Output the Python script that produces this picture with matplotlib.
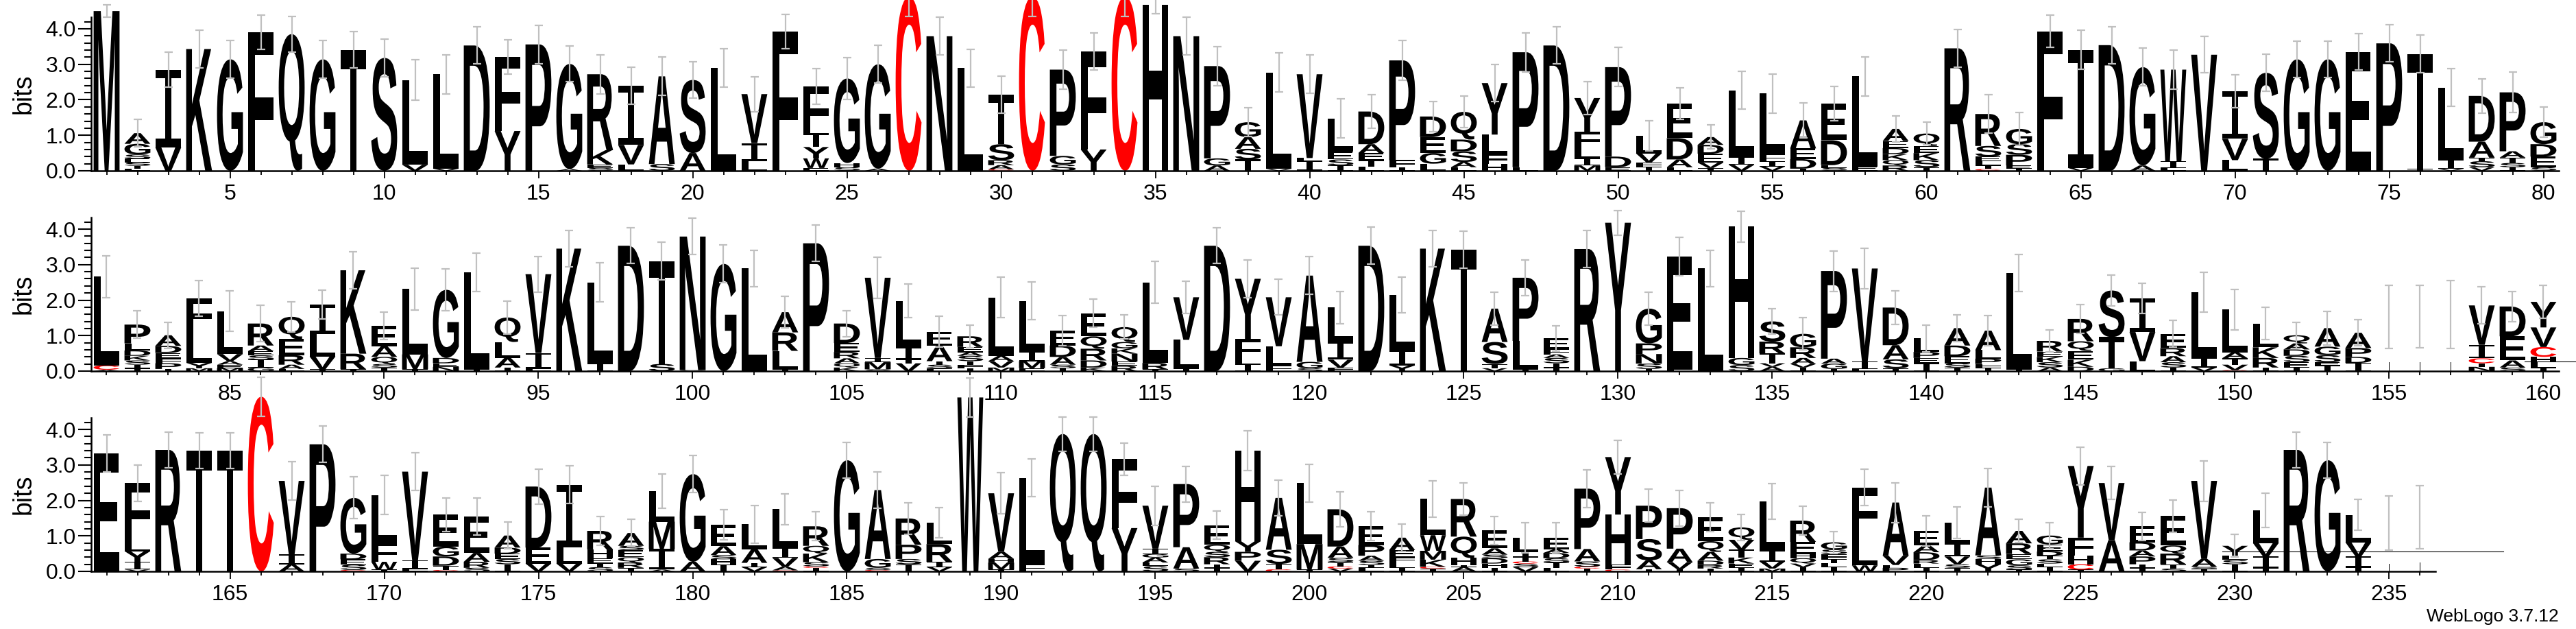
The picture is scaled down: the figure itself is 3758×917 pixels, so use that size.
import re
import matplotlib
matplotlib.use('Agg')
import matplotlib.pyplot as plt
from matplotlib.textpath import TextPath
from matplotlib.font_manager import FontProperties, fontManager
from matplotlib.patches import PathPatch
from matplotlib.transforms import Affine2D
import matplotlib.ticker as mticker

# ---------------- data: letter stacks (bottom -> top, height in bits) ----------------
row1_start = 1
row1_stacks = [
    "M4.5", "L.06 T.08 S.1 E.1 S.12 G.3 A.3", "V.66 I2.19", "K3.43", "G3.14",
    "F3.9", "Q3.85", "G3.14", "T3.41", "S3.18",
    "V.17 L2.39", "V.06 L2.66", "D3.53", "Y1.12 F2.09", "P3.56",
    "A.05 G2.96", "S.08 E.1 K.4 R2.14", "L.18 V.55 I1.67", "S.19 A2.47", "A.5 S2.06",
    "L2.89", "L.28 I.5 V1.38", "F3.92", "E.08 W.27 Y.32 T.4 F1.3", "S.1 H.12 G2.38",
    "A.06 G2.94", "C4.9", "N3.79", "L2.89", "C.04 A.12 R.14 S.45 T1.39",
    "C4.9", "S.18 G.24 P2.43", "Y.6 F2.77", "C4.9", "H4.68",
    "N3.79", "A.15 G.2 P2.6", "T.32 S.3 A.33 G.42", "V.05 L2.72", "I.28 L.08 V2.36",
    "I.15 S.17 E.22 L.93", "L.12 T.18 E.2 A.25 D.92", "I.1 F.2 P2.81", "L.2 G.3 E.45 D.58", "L.1 A.15 S.3 D.33 Q.78",
    "H.2 F.27 L.55 Y1.45", "L.1 P3.24", "D3.53", "M.15 I.2 L.3 F.45 Y.95", "E.1 D.3 P2.52",
    "T.12 F.12 V.25 L.5", "L.1 A.22 D.6 E.97", "T.08 V.15 E.25 D.25 A.22", "V.17 I.22 L1.88", "V.12 I.15 F.2 L1.71",
    "I.06 D.27 E.3 A.79", "S.08 L.08 D.7 E1.03", "E.12 L2.54", "R.15 Q.15 K.17 D.17 E.2 A.34", "T.1 S.2 K.2 E.2 Q.35",
    "R3.45", "C.05 T.1 L.12 E.13 S.3 R.9", "T.07 E.08 P.3 S.3 G.43", "F3.93", "V.08 I3.33",
    "D3.54", "A.15 G2.77", "L.07 I.2 W2.58", "V3.27", "L.3 V.6 I1.34",
    "T.34 S2.42", "G3.14", "G3.14", "E3.35", "P3.59",
    "I.05 T3.24", "V.05 I.27 L2.02", "V.1 S.17 T.1 A.45 D1.29", "I.1 S.12 T.15 A.18 P1.66", "S.1 E.3 D.35 G.62",
]
row1_err = [
    0.18, 0.38, 0.5, 0.53, 0.53, 0.48, 0.5, 0.53, 0.52, 0.53,
    0.57, 0.55, 0.52, 0.48, 0.54, 0.5, 0.55, 0.52, 0.54, 0.52,
    0.54, 0.49, 0.48, 0.5, 0.59, 0.53, 0.55, 0.53, 0.53, 0.52,
    0.55, 0.56, 0.52, 0.55, 0.26, 0.53, 0.55, 0.4, 0.55, 0.54,
    0.55, 0.47, 0.56, 0.43, 0.44, 0.52, 0.55, 0.52, 0.47, 0.55,
    0.42, 0.45, 0.34, 0.54, 0.55, 0.5, 0.48, 0.55, 0.37, 0.32,
    0.53, 0.54, 0.47, 0.45, 0.55, 0.52, 0.53, 0.55, 0.51, 0.47,
    0.52, 0.52, 0.52, 0.51, 0.52, 0.53, 0.53, 0.48, 0.57, 0.43,
]

row2_start = 81
row2_stacks = [
    "A.04 C.12 L2.5", "T.08 I.1 S.12 K.13 D.15 L.2 P.53", "I.06 P.16 F.14 E.15 D.2 A.3", "M.08 Y.15 L.9 F.92", "M.08 E.1 A.1 V.2 L1.21",
    "G.1 I.1 T.12 S.12 E.12 A.16 R.62", "L.06 A.12 R.27 E.45 Q.63", "T.05 V.36 L.64 I.82", "I.05 R.44 K2.35", "T.1 S.1 Q.2 A.3 E.57",
    "I.05 M.42 L1.84", "N.12 E.1 D.15 G1.92", "I.05 L2.74", "I.1 A.27 L.45 Q.69", "L.06 I.45 V2.22",
    "K3.45", "I.22 L2.28", "D3.53", "S.2 T2.9", "G.03 N3.76",
    "G3.02", "L2.89", "I.05 L.52 R.52 A.57", "P3.6", "K.1 Q.12 A.14 R.18 E.25 D.55",
    "S.05 M.2 I.12 V2.26", "V.22 T.1 I.35 L1.31", "F.08 S.1 T.1 A.43 E.4", "I.08 F.1 T.1 S.15 A.1 E.15 R.3", "M.1 V.18 A.15 L1.64",
    "E.08 M.2 I.27 L1.43", "I.08 S.1 A.22 D.32 E.42", "K.1 D.2 R.33 Q.35 E.65", "R.15 E.12 N.22 K.15 G.18 Q.42", "I.05 R.18 L2.27",
    "I.06 L.82 V1.2", "D3.53", "I.2 L.12 F.58 Y1.7", "F.15 L.55 V1.38", "S.08 G.18 A2.43",
    "F.1 V.22 I.52 L.95", "D3.53", "Y.16 I.42 L1.57", "K3.45", "T3.42",
    "V.08 T.12 S.62 A.94", "I.05 L.8 P1.78", "T.1 I.12 S.15 A.1 F.15 E.3", "R3.44", "Y4.18",
    "I.06 S.15 N.27 P.3 G.98", "L.04 E3.19", "L2.89", "S.17 G.2 H3.7", "A.12 V.1 T.28 R.33 S.57",
    "I.1 V.1 A.17 R.3 G.38", "I.06 G.15 A.14 P2.47", "L.05 I.22 V2.62", "T.08 S.25 A.4 D1.06", "I.1 T.12 E.15 P.17 L.38",
    "T.1 S.12 E.2 D.3 A.49", "T.1 F.1 P.15 L.24 A.55", "I.05 L2.71", "A.1 S.15 K.15 E.15 R.3", "D.12 K.2 E.25 Q.27 R.63",
    "G.08 T.88 S1.31", "L.28 V.82 I.95", "I.1 S.15 A.17 R.23 E.4", "V.1 I.27 L1.85", "C.03 V.15 T.18 A.17 L1.2",
    "I.1 R.27 K.3 L.67", "I.1 E.15 S.18 D.18 A.17 Q.23", "T.15 E.1 S.2 G.24 A.52", "I.1 T.13 D.17 P.25 A.43", "L1.52",
    "L1.54", "L1.6", "N.12 T.1 C.14 I.38 V1.11", "S.1 A.2 E.68 D.84", "T.1 L.15 H.15 C.28 V.55 Y.72",
]
row2_err = [
    0.59, 0.39, 0.37, 0.5, 0.57, 0.51, 0.43, 0.41, 0.53, 0.39,
    0.59, 0.58, 0.54, 0.47, 0.5, 0.52, 0.55, 0.5, 0.53, 0.51,
    0.53, 0.51, 0.45, 0.51, 0.37, 0.58, 0.48, 0.44, 0.32, 0.57,
    0.53, 0.43, 0.39, 0.34, 0.59, 0.46, 0.5, 0.53, 0.5, 0.53,
    0.45, 0.52, 0.5, 0.52, 0.52, 0.47, 0.51, 0.36, 0.52, 0.35,
    0.47, 0.54, 0.51, 0.44, 0.35, 0.45, 0.57, 0.57, 0.47, 0.37,
    0.37, 0.42, 0.52, 0.31, 0.4, 0.44, 0.42, 0.38, 0.56, 0.57,
    0.45, 0.37, 0.48, 0.37, 0.89, 0.88, 0.96, 0.52, 0.42, 0.46,
]

row3_start = 161
row3_stacks = [
    "E3.32", "V.05 I.22 Y.3 L.3 F1.62", "R3.42", "T3.4", "T3.4",
    "C4.92", "A.2 I.28 V2.07", "P3.58", "C.04 S.15 E.15 D.16 G1.57", "I.05 W.22 F.53 L1.35",
    "L.06 I.25 V2.5", "C.04 T.12 D.26 G.28 E.9", "S.1 R.17 A.25 E1.02", "I.1 T.1 S.15 E.15 D.17 A.34", "V.22 E.45 D1.72",
    "V.22 L.45 I1.77", "S.12 T.1 E.15 H.25 R.52", "T.1 R.15 Q.15 E.2 S.12 A.36", "A.05 I.58 M.77 L.86", "A.27 G2.47",
    "I.08 T.12 H.14 S.12 A.25 E.6", "V.12 I.12 A.38 L.71", "C.03 A.1 V.25 I.3 L1.07", "I.1 C.04 S.12 K.24 Q.22 R.55", "G3.13",
    "C.04 S.06 G.25 A1.94", "I.08 T.12 S.15 P.4 R.74", "V.12 I.15 R.5 L.6", "W4.9", "I.05 M.2 H.1 A.2 V1.65",
    "F.2 L2.43", "Q3.87", "Q3.87", "Y1.22 F1.94", "S.15 L.1 A.14 G.1 I.15 V1.21",
    "S.08 A.6 P1.78", "T.1 I.1 R.2 S.15 Q.2 E.55", "V.3 P.25 Y.3 H2.55", "C.06 T.15 S.4 A1.46", "I.05 M.72 L1.72",
    "V.08 C.06 T.12 S.12 A.32 D1.05", "L.1 I.08 S.12 A.14 P.3 E.53", "I.1 L.15 F.15 E.2 A.35", "T.08 C.05 K.2 M.25 W.44 L1.02", "A.12 I.06 H.2 Q.6 R1.06",
    "I.1 H.12 D.15 S.1 A.18 E.5", "V.12 S.1 C.06 T.12 I.15 L.4", "L.1 T.15 S.12 D.15 A.1 E.33", "I.08 C.05 S.15 A.35 P1.7", "C.05 F.15 H1.4 Y1.62",
    "I.06 A.25 S.6 P.94", "I.06 V.2 A.38 P1.14", "I.08 R.1 D.12 A.25 Q.3 E.68", "I.1 E.12 K.17 T.22 V.28 Q.35", "M.08 V.2 I.32 L1.37",
    "I.12 V.1 Q.15 H.12 E.34 R.6", "I.12 L.12 T.1 F.15 S.13 G.2", "W.17 L.8 F1.39", "P.1 F.08 V.26 A1.5", "I.1 L.12 R.1 D.22 A.2 E.4",
    "T.1 S.1 V.22 I.37 L.58", "Y.2 H.15 S.1 A1.91", "T.05 S.12 G.17 E.15 R.3 A.35", "I.12 L.1 S.12 T.1 D.12 E.2 G.25", "I.05 C.15 H.25 F.5 Y2.02",
    "A.88 V1.61", "T.1 I.1 P.22 A.17 D.23 E.45", "S.08 T.12 R.3 Q.23 E.83", "T.08 S.05 A.22 V2.2", "I.1 T.1 S.12 L.12 Y.28",
    "T.1 I.32 V.38 L.92", "R3.42", "G3.13", "T.12 I.3 V.4 L.77", "L1.36",
    "L1.52",
]
row3_err = [
    0.52, 0.51, 0.5, 0.51, 0.51, 0.55, 0.54, 0.51, 0.59, 0.55,
    0.53, 0.47, 0.52, 0.38, 0.49, 0.53, 0.41, 0.38, 0.48, 0.52,
    0.42, 0.53, 0.43, 0.41, 0.51, 0.52, 0.44, 0.42, 0.55, 0.58,
    0.53, 0.48, 0.48, 0.45, 0.55, 0.5, 0.4, 0.56, 0.5, 0.53,
    0.5, 0.41, 0.38, 0.52, 0.45, 0.39, 0.42, 0.42, 0.53, 0.47,
    0.46, 0.5, 0.4, 0.37, 0.51, 0.41, 0.31, 0.51, 0.56, 0.42,
    0.45, 0.54, 0.33, 0.37, 0.53, 0.46, 0.4, 0.45, 0.57, 0.32,
    0.48, 0.5, 0.51, 0.43, 0.76, 0.89,
]

# positions whose stack is drawn almost zero-width (mostly gaps)
thin_positions = [155, 156, 157, 235, 236]
# stray hair-lines visible in the original rendering: (row, x0, x1, y)
artifact_lines = [(1, 159.4, 242.0, 0.27), (2, 229.6, 238.7, 0.57)]

letter_colors = {"C": "#ff0000"}
ymax_bits = 4.3219

# ---------------- drawing ----------------
W_PX, H_PX = 3758, 917
fig = plt.figure(figsize=(W_PX / 100, H_PX / 100), dpi=100)
fig.patch.set_facecolor("white")

fp_main = FontProperties(family="Liberation Sans", weight="bold")
fp_I = FontProperties(family="DejaVu Sans Mono")
_names = {f.name for f in fontManager.ttflist}
num_font = "Liberation Sans Narrow" if "Liberation Sans Narrow" in _names else "Liberation Sans"
_cache = {}


def glyph(ch):
    if ch not in _cache:
        p = TextPath((0, 0), ch, size=1, prop=fp_I if ch == "I" else fp_main)
        _cache[ch] = (p, p.get_extents())
    return _cache[ch]


def draw_letter(ax, ch, xc, y0, h, w, color):
    p, ext = glyph(ch)
    t = (Affine2D().translate(-ext.x0, -ext.y0)
         .scale(w / ext.width, h / ext.height)
         .translate(xc - w / 2, y0))
    ax.add_patch(PathPatch(t.transform_path(p), facecolor=color, edgecolor="none",
                           lw=0, clip_on=False, zorder=2))


def parse(s):
    return [(a, float(b)) for a, b in re.findall(r"([A-Z])([\d.]+)", s)]


rows = [(row1_start, row1_stacks, row1_err),
        (row2_start, row2_stacks, row2_err),
        (row3_start, row3_stacks, row3_err)]
left_px, slot_px, bits_px = 133, 45.0, 51.75
baselines_px = [249, 541, 833]
letter_w = 0.84

for r, (start, stacks, errs) in enumerate(rows):
    n = len(stacks)
    base = baselines_px[r]
    ax = fig.add_axes([left_px / W_PX, (H_PX - base) / H_PX,
                       n * slot_px / W_PX, ymax_bits * bits_px / H_PX])
    ax.set_xlim(start - 0.5, start + n - 0.5)
    ax.set_ylim(0, ymax_bits)
    xs, tops = [], []
    for i, s in enumerate(stacks):
        pos = start + i
        w = 0.03 if pos in thin_positions else letter_w
        y = 0.0
        for ch, h in parse(s):
            draw_letter(ax, ch, pos, y, h, w, letter_colors.get(ch, "black"))
            y += h
        xs.append(pos)
        tops.append(y)
    ax.errorbar(xs, tops, yerr=errs, fmt="none", ecolor="#c0c0c0",
                elinewidth=1.6, capsize=4.2, capthick=1.6, zorder=3, clip_on=False)
    for ar, x0, x1, yy in artifact_lines:
        if ar == r:
            ax.plot([x0, x1], [yy, yy], color="black", lw=0.8, clip_on=False, zorder=2)

    for sp in ("top", "right"):
        ax.spines[sp].set_visible(False)
    ax.spines["left"].set_linewidth(1.8)
    ax.spines["bottom"].set_linewidth(1.8)
    ax.yaxis.set_major_locator(mticker.FixedLocator([0, 1, 2, 3, 4]))
    ax.yaxis.set_major_formatter(mticker.FixedFormatter(["0.0", "1.0", "2.0", "3.0", "4.0"]))
    ax.yaxis.set_minor_locator(mticker.MultipleLocator(0.2))
    first5 = ((start + 4) // 5) * 5
    majors = list(range(first5, start + n, 5))
    ax.xaxis.set_major_locator(mticker.FixedLocator(majors))
    ax.xaxis.set_major_formatter(mticker.FixedFormatter([str(m) for m in majors]))
    ax.xaxis.set_minor_locator(mticker.FixedLocator(list(range(start, start + n))))
    ax.tick_params(axis="y", which="major", direction="out", length=14, width=1.5,
                   pad=2, labelsize=23)
    ax.tick_params(axis="y", which="minor", direction="out", length=7, width=1.5)
    ax.tick_params(axis="x", which="major", direction="out", length=8, width=1.3,
                   pad=6, labelsize=23)
    ax.tick_params(axis="x", which="minor", direction="out", length=4, width=1.3)
    for lab in ax.get_xticklabels() + ax.get_yticklabels():
        lab.set_fontfamily(num_font)
    ax.patch.set_alpha(0)
    fig.text(35 / W_PX, 1 - (base - ymax_bits * bits_px / 2) / H_PX, "bits",
             rotation=90, ha="center", va="center", fontsize=27, family="Liberation Sans")

fig.text(3733 / W_PX, 1 - 906 / H_PX, "WebLogo 3.7.12", ha="right", va="baseline",
         fontsize=19, family=num_font)

fig.savefig("out.png", dpi=100, facecolor="white")
